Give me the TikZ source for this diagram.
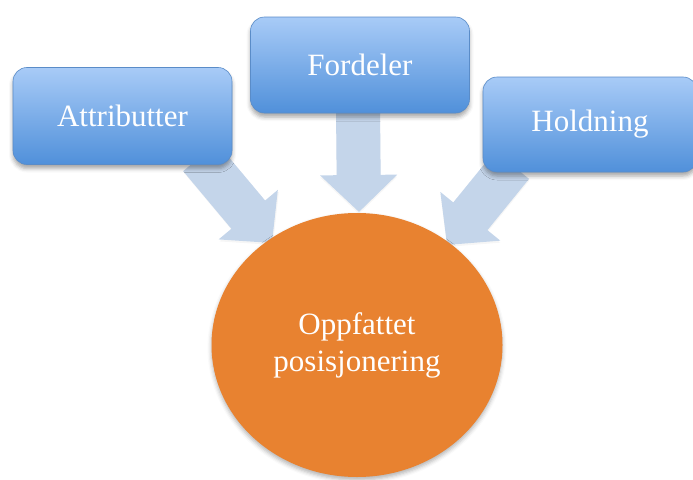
\documentclass[tikz,border=0pt]{standalone}
\usepackage{fontspec}
\setmainfont{Liberation Serif}
\usetikzlibrary{shapes.geometric,arrows.meta,shadows.blur}

\definecolor{boxtop}{HTML}{A8CBF7}
\definecolor{boxbot}{HTML}{5090DA}
\definecolor{boxline}{HTML}{5A8CC8}
\definecolor{flow}{HTML}{C4D5EA}
\definecolor{core}{HTML}{E88230}

\tikzset{
  x=1pt, y=-1pt,
  factor/.style={rectangle, rounded corners=14pt, draw=boxline, line width=0.6pt,
    top color=boxtop, bottom color=boxbot, text=white,
    minimum width=219pt, minimum height=97pt, inner sep=0pt,
    font=\fontsize{31}{37}\selectfont,
    blur shadow={shadow xshift=0pt, shadow yshift=-4pt, shadow blur radius=4pt, shadow opacity=35}},
  outcome/.style={ellipse, fill=core, text=white, align=center,
    minimum width=291pt, minimum height=264pt, inner sep=0pt,
    font=\fontsize{31}{37}\selectfont,
    blur shadow={shadow xshift=0pt, shadow yshift=-3pt, shadow blur radius=4pt, shadow opacity=30}},
  flowarrow/.style={draw=flow, line width=44pt,
    -{Triangle[width=75pt, length=37pt]}},
  flowshade/.style={draw=black!40, opacity=0.09, line width=44pt,
    -{Triangle[width=75pt, length=37pt]}}
}

\begin{document}
\begin{tikzpicture}
\useasboundingbox (0,0) rectangle (693,479);

% start and end points of the three block arrows
\coordinate (a0) at (200,157);
\coordinate (a1) at (272,243);
\coordinate (f0) at (358,108);
\coordinate (f1) at (359,212);
\coordinate (h0) at (512,165);
\coordinate (h1) at (447,245);

% faint shadows, then the arrows
\draw[flowshade] ([shift={(1,2)}]a0) -- ([shift={(1,2)}]a1);
\draw[flowshade] ([shift={(0,2)}]f0) -- ([shift={(0,2)}]f1);
\draw[flowshade] ([shift={(0,2)}]h0) -- ([shift={(0,2)}]h1);
\draw[flowarrow] (a0) -- (a1);
\draw[flowarrow] (f0) -- (f1);
\draw[flowarrow] (h0) -- (h1);

% the result
\node[outcome] (pos) at (357,345) {Oppfattet\\posisjonering};

% the three factors
\node[factor] (attr) at (122.5,116) {Attributter};
\node[factor, minimum height=96pt] (ford) at (360,65) {Fordeler};
\node[factor, minimum width=214pt, minimum height=95pt] (hold) at (590,124.5) {Holdning};
\end{tikzpicture}
\end{document}
